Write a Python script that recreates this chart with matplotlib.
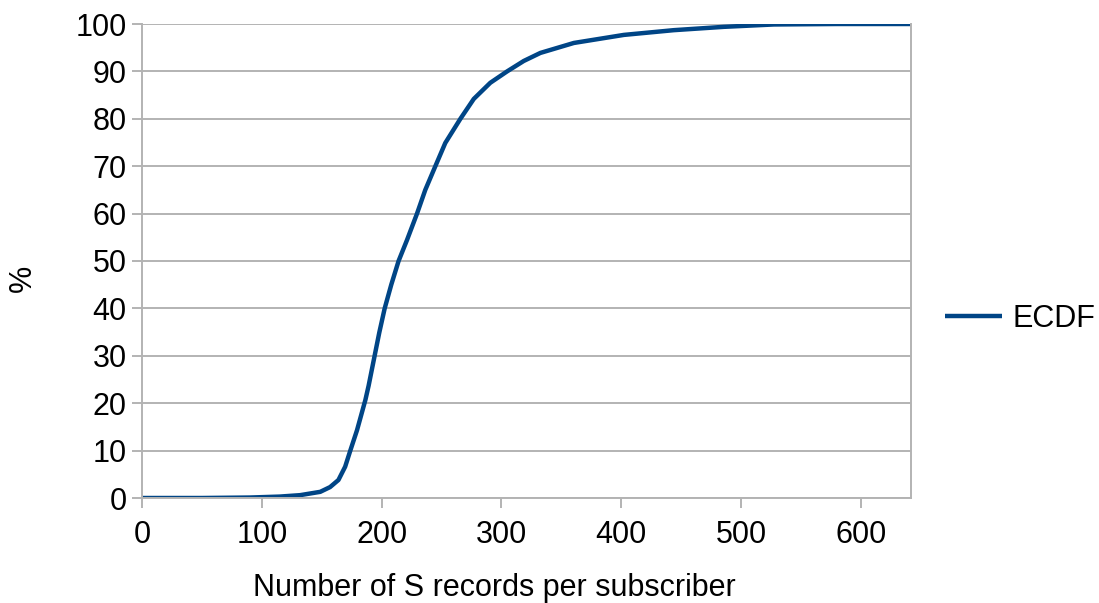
import matplotlib.pyplot as plt

plt.rcParams['font.family'] = ['Liberation Sans', 'DejaVu Sans']

# ECDF
records = [0, 50, 90, 115, 132, 148.8, 157, 164, 169.6, 173.9, 179.5, 186.5, 189.2,
           194.2, 198.1, 202.6, 208.1, 214.2, 221.2, 229.6, 236.5, 244.9, 253.2,
           265.8, 277, 290.8, 304.8, 318.7, 332.6, 360.5, 402.3, 444, 485.7, 527.5,
           580, 642]
pct = [0, 0, 0.1, 0.3, 0.6, 1.3, 2.3, 3.8, 6.6, 10, 14.3, 20.7, 23.7,
       30, 34.9, 40, 45, 50, 54.4, 60, 65, 70, 74.9,
       80, 84.2, 87.6, 90, 92.2, 93.9, 96, 97.7, 98.7, 99.4, 99.9,
       100, 100]

fig = plt.figure(figsize=(10.99, 6.03), dpi=100)
ax = fig.add_axes([142 / 1099, 1 - 498 / 603, (911 - 142) / 1099, (498 - 24) / 603])

grid_c = '#b3b3b3'
ax.plot(records, pct, color='#004586', linewidth=3.2, label='ECDF',
        solid_joinstyle='round', solid_capstyle='butt')

ax.set_xlim(0, 642)
ax.set_ylim(0, 100)
ax.set_xticks(range(0, 601, 100))
ax.set_yticks(range(0, 101, 10))
ax.yaxis.grid(True, color=grid_c, linewidth=1.4)
ax.set_axisbelow(True)
ax.spines['top'].set_visible(False)
for s in ['left', 'bottom', 'right']:
    ax.spines[s].set_color(grid_c)
    ax.spines[s].set_linewidth(1.4)
ax.tick_params(colors=grid_c, labelcolor='black', labelsize=22, length=7.5, width=1.4)
ax.tick_params(axis='x', pad=8)

ax.set_xlabel('Number of S records per subscriber', fontsize=22)
ax.set_ylabel('%', fontsize=22)
ax.xaxis.set_label_coords(0.458, -0.19)
ax.xaxis.label.set_va('center')
ax.yaxis.set_label_coords(-0.155, 0.464)
ax.yaxis.label.set_va('center')

fig.legend(loc='center left', bbox_to_anchor=(945 / 1099, 1 - 319 / 603), frameon=False,
           fontsize=22, handlelength=1.87, handletextpad=0.35, borderpad=0,
           borderaxespad=0)

fig.savefig('out.png', dpi=100)
